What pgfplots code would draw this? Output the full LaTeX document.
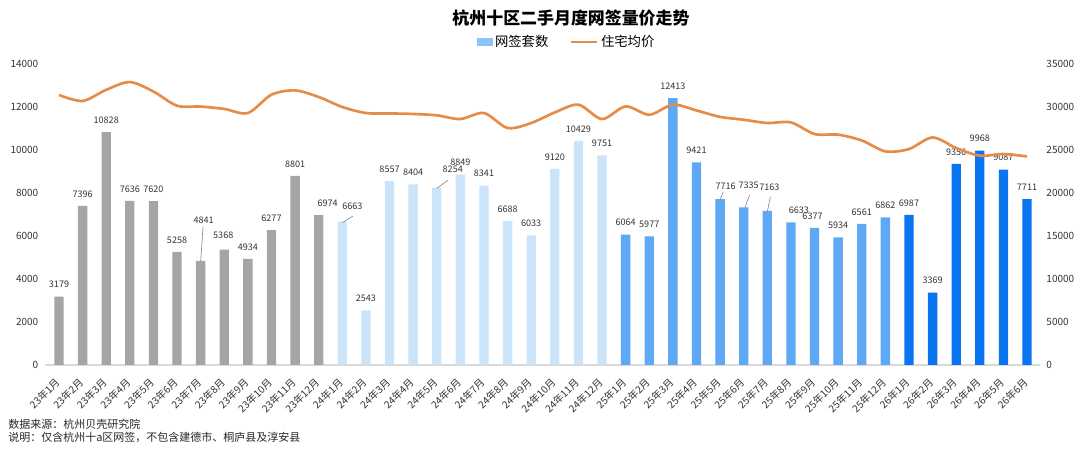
\documentclass[border=0pt]{standalone}
\usepackage{fontspec}
\setmainfont{Noto Sans CJK SC}
\usepackage{pgfplots}
\pgfplotsset{compat=1.18}
\usepackage{pgfplotstable}

\definecolor{c23}{RGB}{165,165,165}
\definecolor{c24}{RGB}{204,228,250}
\definecolor{c25}{RGB}{94,168,245}
\definecolor{c26}{RGB}{10,117,240}
\definecolor{legblue}{RGB}{142,195,245}
\definecolor{priceorange}{RGB}{228,140,72}

\pgfplotstableread{
x y dx dy
0 3179 0 12
1 7396 0 12
2 10828 0 12
3 7636 0 12
4 7620 0 12
5 5258 0 12
6 4841 3 41
7 5368 -1 14
8 4934 0 12
9 6277 0 12
10 8801 0 12
11 6974 9 12
}\tabA

\pgfplotstableread{
x y dx dy
12 6663 10 15
13 2543 0 12
14 8557 0 12
15 8404 0 12
16 8254 16 18.5
17 8849 0 12
18 8341 0 12
19 6688 0 12
20 6033 0 12
21 9120 0 12
22 10429 0 12
23 9751 0 12
}\tabB

\pgfplotstableread{
x y dx dy
24 6064 0 12
25 5977 0 12
26 12413 0 12
27 9421 0 12
28 7716 5.5 13
29 7335 5 22
30 7163 2 24
31 6633 8 12.4
32 6377 -2 11.5
33 5934 0 12
34 6561 0 12
35 6862 0 12
}\tabC

\pgfplotstableread{
x y dx dy
36 6987 0 12
37 3369 0 12
38 9356 0 12
39 9968 0 12
40 9087 0 12
41 7711 0 12
}\tabD

\pgfplotstableread{
x p
0 31400
1 30700
2 32000
3 32900
4 31800
5 30150
6 30050
7 29770
8 29300
9 31430
10 31930
11 31160
12 30000
13 29300
14 29250
15 29190
16 29030
17 28600
18 29300
19 27560
20 28140
21 29370
22 30270
23 28600
24 30070
25 29100
26 30270
27 29600
28 28850
29 28520
30 28140
31 28210
32 26860
33 26780
34 26110
35 24840
36 25110
37 26460
38 25230
39 24340
40 24530
41 24250
}\tabP

\pgfplotsset{
  barstyle/.style={
    ybar, bar width=7pt, bar shift=0pt, draw=none,
    nodes near coords,
    visualization depends on={\thisrow{dx} \as \dx},
    visualization depends on={\thisrow{dy} \as \dy},
    nodes near coords style={font=\fontsize{6.8}{8}\selectfont, text=black!80,
      anchor=center, xshift={\dx*0.75pt}, yshift={\dy*0.75pt}},
  },
  leader/.style={draw=black!45, line width=0.5pt, mark=none, forget plot},
}

\begin{document}
\begin{tikzpicture}
\path[use as bounding box] (0,0) rectangle (810pt,336.75pt);

\begin{axis}[
  at={(33.75pt,63pt)}, anchor=south west,
  scale only axis, width=746.25pt, height=225.75pt,
  xmin=-0.593, xmax=41.55, ymin=0, ymax=14000,
  axis x line*=bottom, axis y line*=left,
  x axis line style={draw=black!15, line width=0.8pt, -},
  y axis line style={draw=none, -},
  major tick length=0pt,
  scaled ticks=false,
  xtick={0,...,41},
  xticklabels={23年1月,23年2月,23年3月,23年4月,23年5月,23年6月,23年7月,23年8月,23年9月,23年10月,23年11月,23年12月,
    24年1月,24年2月,24年3月,24年4月,24年5月,24年6月,24年7月,24年8月,24年9月,24年10月,24年11月,24年12月,
    25年1月,25年2月,25年3月,25年4月,25年5月,25年6月,25年7月,25年8月,25年9月,25年10月,25年11月,25年12月,
    26年1月,26年2月,26年3月,26年4月,26年5月,26年6月},
  ytick={0,2000,...,14000},
  /pgf/number format/1000 sep={},
  /pgf/number format/assume math mode=true,
  tick label style={font=\fontsize{7.5}{9}\selectfont, text=black!80},
  xticklabel style={xshift=1.5pt, yshift=-9pt, rotate=45, anchor=east, font=\fontsize{7.6}{9}\selectfont},
  yticklabel style={xshift=-1.5pt},
  clip=false,
]
\addplot[barstyle, fill=c23] table[x=x, y=y] {\tabA};
\addplot[barstyle, fill=c24] table[x=x, y=y] {\tabB};
\addplot[barstyle, fill=c25] table[x=x, y=y] {\tabC};
\addplot[barstyle, fill=c26] table[x=x, y=y] {\tabD};
\addplot[leader] coordinates {(6.0,4804) (6.10,6432)};
\addplot[leader] coordinates {(12.0,6617) (12.45,6929)};
\addplot[leader] coordinates {(16.0,8217) (16.48,8603)};
\addplot[leader] coordinates {(28.0,7707) (28.14,8060)};
\addplot[leader] coordinates {(29.05,7316) (29.25,7907)};
\addplot[leader] coordinates {(30.0,7130) (30.13,7828)};
\end{axis}

\begin{axis}[
  at={(33.75pt,63pt)}, anchor=south west,
  scale only axis, width=746.25pt, height=225.75pt,
  xmin=-0.593, xmax=41.55, ymin=0, ymax=35000,
  axis x line=none, axis y line*=right,
  y axis line style={draw=none, -},
  major tick length=0pt,
  scaled ticks=false,
  ytick={0,5000,...,35000},
  /pgf/number format/1000 sep={},
  /pgf/number format/assume math mode=true,
  tick label style={font=\fontsize{7.5}{9}\selectfont, text=black!80},
  yticklabel style={xshift=1.3pt},
  clip=false,
  legend style={at={(0.5246,1.073)}, anchor=center, draw=none, fill=none,
    legend columns=2, font=\fontsize{10}{12}\selectfont,
    /tikz/every even column/.append style={column sep=14pt}},
  legend cell align=left,
]
\addlegendimage{legend image code/.code={\fill[legblue] (0pt,-2.6pt) rectangle (11.25pt,2.6pt);}}
\addlegendentry{网签套数}
\addlegendimage{legend image code/.code={\draw[line width=2pt, priceorange] (0pt,0pt) -- (19.5pt,0pt);}}
\addlegendentry{住宅均价}
\addplot[priceorange, line width=2pt, smooth, mark=none, forget plot] table[x=x, y=p] {\tabP};
\end{axis}

\node[font=\bfseries\fontsize{12.7}{14}\selectfont] at (428.25pt,323.25pt) {杭州十区二手月度网签量价走势};
\node[anchor=west, inner sep=0pt, font=\fontsize{8.25}{10}\selectfont, text=black!85] at (6pt,18.4pt) {数据来源：杭州贝壳研究院};
\node[anchor=west, inner sep=0pt, font=\fontsize{8.25}{10}\selectfont, text=black!85] at (6pt,9pt) {说明：仅含杭州十a区网签，不包含建德市、桐庐县及淳安县};
\end{tikzpicture}
\end{document}
